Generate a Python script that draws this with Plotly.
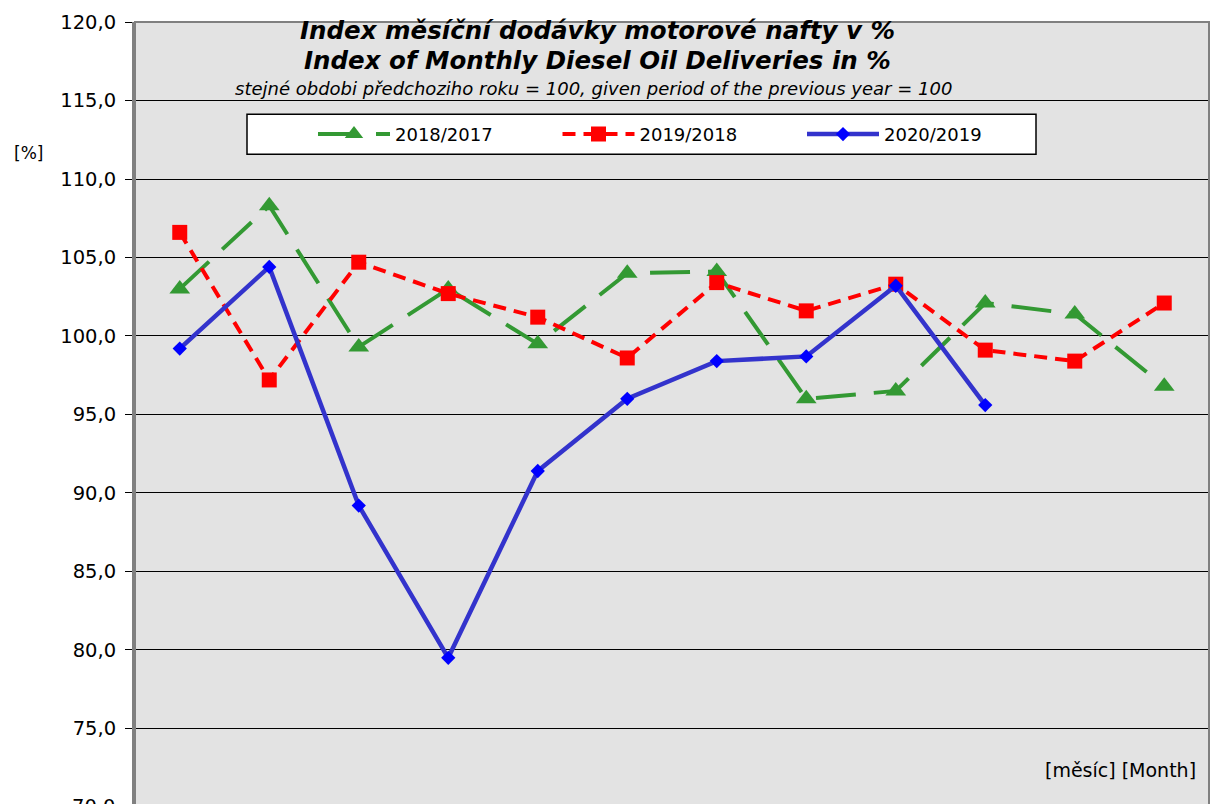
import plotly.graph_objects as go

months = list(range(1, 13))
s2018_2017 = [103.0, 108.3, 99.3, 103.0, 99.5, 104.0, 104.1, 96.0, 96.5, 102.1, 101.4, 96.8]
s2019_2018 = [106.6, 97.2, 104.7, 102.7, 101.2, 98.6, 103.4, 101.6, 103.3, 99.1, 98.4, 102.1]
s2020_2019 = [99.2, 104.4, 89.2, 79.5, 91.4, 96.0, 98.4, 98.7, 103.2, 95.6]
names = ["2018/2017", "2019/2018", "2020/2019"]
yticks = [70, 75, 80, 85, 90, 95, 100, 105, 110, 115, 120]
ytick_text = ["70,0", "75,0", "80,0", "85,0", "90,0", "95,0", "100,0", "105,0", "110,0", "115,0", "120,0"]

W, H = 1211, 804
L, R, T, B = 135, 2, 21.6, 0
pw, ph = W - L - R, H - T - B


def px(xp):
    return (xp - L) / pw


def py(yp):
    return (H - B - yp) / ph


FONT = "DejaVu Sans, Liberation Sans, Arial, sans-serif"

fig = go.Figure()
fig.add_trace(go.Scatter(
    x=months, y=s2018_2017, name=names[0], mode="lines+markers",
    line=dict(color="#339933", width=4, dash="40px,18px"),
    marker=dict(symbol="triangle-up", size=18, color="#339933"),
))
fig.add_trace(go.Scatter(
    x=months, y=s2019_2018, name=names[1], mode="lines+markers",
    line=dict(color="#ff0000", width=4, dash="13px,8px"),
    marker=dict(symbol="square", size=15, color="#ff0000"),
))
fig.add_trace(go.Scatter(
    x=months[:len(s2020_2019)], y=s2020_2019, name=names[2], mode="lines+markers",
    line=dict(color="#3333cc", width=4.5),
    marker=dict(symbol="diamond", size=11, color="#0000ff"),
))

shapes = [
    dict(type="rect", xref="paper", yref="paper", x0=0, x1=1, y0=-0.02, y1=1,
         line=dict(color="#808080", width=2), fillcolor="rgba(0,0,0,0)", layer="above"),
    dict(type="rect", xref="paper", yref="paper", x0=px(247), x1=px(1036), y0=py(154), y1=py(114),
         line=dict(color="#000000", width=1.5), fillcolor="#ffffff", layer="above"),
]


def ann(text, x, y, size, xanchor="center"):
    return dict(text=text, x=px(x), y=py(y), xref="paper", yref="paper", showarrow=False,
                xanchor=xanchor, yanchor="middle",
                font=dict(family=FONT, size=size, color="#000"))


annotations = [
    ann("<b><i>Index měsíční dodávky motorové nafty v %</i></b>", 597, 30, 24.5),
    ann("<b><i>Index of Monthly Diesel Oil Deliveries in %</i></b>", 597, 60, 24.5),
    ann("<i>stejné obdobi předchoziho roku = 100, given period of the previous year = 100</i>", 593, 88, 18),
    ann("[%]", 28, 153, 17),
    ann("[měsíc] [Month]", 1198, 770, 19, xanchor="right"),
    ann("70,0", 117, 807, 19.5, xanchor="right"),
]

fig.update_layout(
    width=W, height=H,
    margin=dict(l=L, r=R, t=T, b=B, pad=0),
    paper_bgcolor="#ffffff",
    plot_bgcolor="#e3e3e3",
    font=dict(family=FONT, color="#000"),
    showlegend=True,
    legend=dict(orientation="h", x=px(313), y=py(134), xanchor="left", yanchor="middle",
                bgcolor="rgba(0,0,0,0)", borderwidth=0, itemwidth=72,
                font=dict(family=FONT, size=18, color="#000"),
                entrywidth=157.5, entrywidthmode="pixels", traceorder="normal"),
    xaxis=dict(range=[0.5, 12.5], showgrid=False, showticklabels=False, zeroline=False,
               showline=False, ticks=""),
    yaxis=dict(range=[70.19, 120], tickvals=yticks, ticktext=ytick_text, showgrid=True,
               gridcolor="#000000", gridwidth=1, zeroline=False,
               showline=True, linecolor="#808080", linewidth=3,
               ticks="outside", ticklen=7, tickcolor="#000000", tickwidth=1,
               tickfont=dict(family=FONT, size=19.5, color="#000"), ticklabelstandoff=5),
    shapes=shapes,
    annotations=annotations,
)

fig.write_html("out.html", config={"displayModeBar": False},
               post_script="document.body.style.margin='0px';")
